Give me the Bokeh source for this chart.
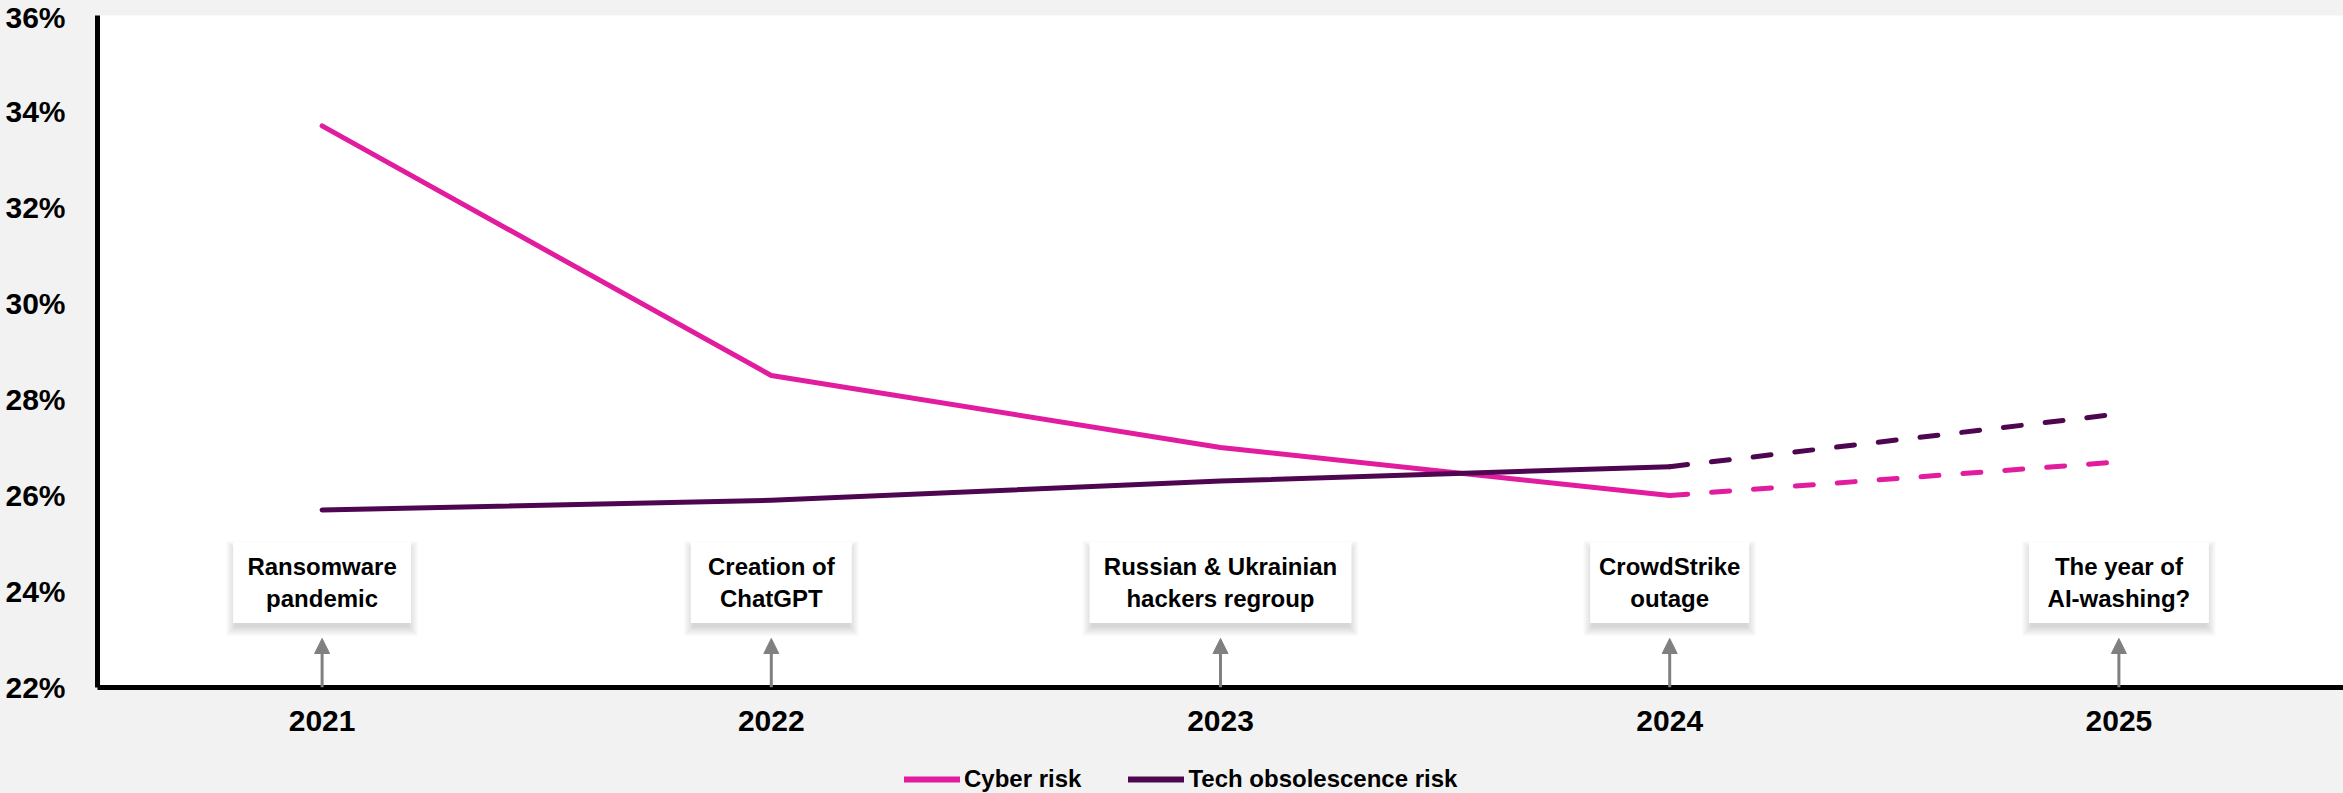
from bokeh.plotting import figure
from bokeh.layouts import column
from bokeh.models import (Range1d, FixedTicker, PrintfTickFormatter, Legend, LegendItem,
                          Arrow, NormalHead, ColumnDataSource)
from bokeh.core.properties import value
from bokeh.embed import file_html
from bokeh.resources import INLINE

# ---- data ----
years = [2021, 2022, 2023, 2024, 2025]
cyber_risk = [33.7, 28.5, 27.0, 26.0, 26.7]
tech_obsolescence_risk = [25.7, 25.9, 26.3, 26.6, 27.7]
events = ["Ransomware\npandemic", "Creation of\nChatGPT", "Russian & Ukrainian\nhackers regroup",
          "CrowdStrike\noutage", "The year of\nAI-washing?"]
y_ticks = [22, 24, 26, 28, 30, 32, 34, 36]
series_names = ["Cyber risk", "Tech obsolescence risk"]

PINK = "#E21C9F"
PURPLE = "#4F0650"
GRAY = "#808080"
BG = "#F2F2F2"
FONT_NAME = "Liberation Sans"
FONT = value(FONT_NAME)

W, H = 2343, 793
H_MAIN = 747
LEFT, TOP, BOTTOM = 97, 15, 60
Y0, Y1 = 22, 36
px_per_unit = (H_MAIN - TOP - BOTTOM) / (Y1 - Y0)

p = figure(width=W, height=H_MAIN, output_backend="svg", toolbar_location=None,
           x_range=Range1d(2020.5, 2025.5), y_range=Range1d(Y0, Y1),
           min_border_left=LEFT, min_border_top=TOP, min_border_bottom=BOTTOM, min_border_right=0)
p.border_fill_color = BG
p.background_fill_color = "white"
p.outline_line_color = None
p.grid.grid_line_color = None

# axes
for ax in (p.xaxis[0], p.yaxis[0]):
    ax.axis_line_width = 5
    ax.axis_line_color = "black"
    ax.major_tick_line_color = None
    ax.minor_tick_line_color = None
    ax.major_label_text_font = FONT_NAME
    ax.major_label_text_font_size = "30px"
    ax.major_label_text_font_style = "bold"
    ax.major_label_text_color = "black"
p.xaxis.ticker = FixedTicker(ticks=years)
p.xaxis.major_label_standoff = 17
p.yaxis.ticker = FixedTicker(ticks=y_ticks)
p.yaxis.formatter = PrintfTickFormatter(format="%d%%")
p.yaxis.major_label_standoff = 26

# event boxes with soft shadow
box_widths = [178, 161, 262, 159, 180]
box_h = 81
box_y = Y0 + (105 / px_per_unit)
shadow_y = box_y - 6 / px_per_unit
for k in range(0, 10):
    p.rect(x=years, y=[shadow_y] * 5, width=[w + 2 * k - 4 for w in box_widths],
           height=box_h + 2 * k - 4, width_units="screen", height_units="screen",
           fill_color="black", fill_alpha=0.014, line_color=None)
p.rect(x=years, y=[box_y] * 5, width=box_widths, height=box_h, width_units="screen",
       height_units="screen", fill_color="white", line_color=None)
p.text(x=years, y=[box_y] * 5, text=events, text_align="center", text_baseline="middle",
       text_font=FONT, text_font_size="24px", text_font_style="bold", text_color="black",
       text_line_height=1.2)

# arrows
arrow_src = ColumnDataSource(dict(x=years, y0=[Y0] * 5, y1=[Y0 + 49 / px_per_unit] * 5))
p.add_layout(Arrow(end=NormalHead(size=15, fill_color=GRAY, line_color=GRAY, line_width=1),
                   source=arrow_src, x_start="x", y_start="y0", x_end="x", y_end="y1",
                   line_color=GRAY, line_width=3))

# lines
p.line(years[:4], cyber_risk[:4], line_color=PINK, line_width=5,
       line_cap="round", line_join="round")
p.line(years[3:], cyber_risk[3:], line_color=PINK, line_width=5, line_cap="round",
       line_dash="18 24")
p.line(years[:4], tech_obsolescence_risk[:4], line_color=PURPLE, line_width=5,
       line_cap="round", line_join="round")
p.line(years[3:], tech_obsolescence_risk[3:], line_color=PURPLE, line_width=5, line_cap="round",
       line_dash="18 24")

# legend strip (series re-plotted outside its visible range, used only as legend glyphs)
H_LEG = H - H_MAIN
pl = figure(width=W, height=H_LEG, output_backend="svg", toolbar_location=None,
            x_range=Range1d(0, 1), y_range=Range1d(0, 1), x_axis_type=None, y_axis_type=None,
            min_border_left=LEFT, min_border_right=0, min_border_top=0, min_border_bottom=0)
pl.border_fill_color = BG
pl.background_fill_color = BG
pl.outline_line_color = None
pl.grid.grid_line_color = None
lc = pl.line(years, cyber_risk, line_color=PINK, line_width=6, line_cap="round")
lt = pl.line(years, tech_obsolescence_risk, line_color=PURPLE, line_width=6, line_cap="round")
legend = Legend(items=[LegendItem(label=series_names[0], renderers=[lc]),
                       LegendItem(label=series_names[1], renderers=[lt])],
                orientation="horizontal", location=(904 - LEFT, 0),
                glyph_width=56, glyph_height=24, label_height=24, label_standoff=4,
                spacing=47, padding=0, margin=0,
                label_text_font=FONT_NAME, label_text_font_size="24px",
                label_text_font_style="bold", label_text_color="black",
                background_fill_alpha=0, border_line_color=None)
pl.add_layout(legend)

layout = column(p, pl, spacing=0, styles={"background-color": BG})
open("out.html", "w").write(file_html(layout, INLINE))
